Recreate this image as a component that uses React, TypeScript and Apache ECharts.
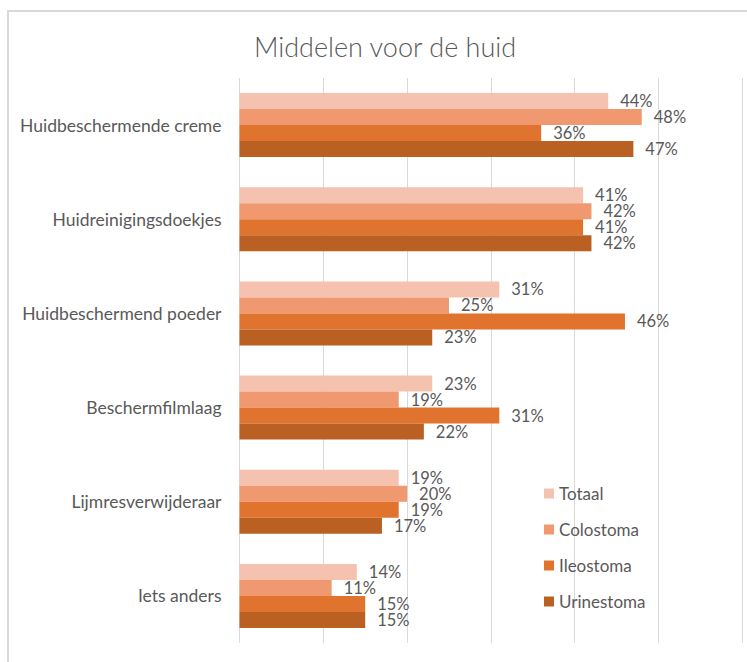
import React, { useEffect, useRef } from "react";
import * as echarts from "echarts";

const categories = [
  "Huidbeschermende creme",
  "Huidreinigingsdoekjes",
  "Huidbeschermend poeder",
  "Beschermfilmlaag",
  "Lijmresverwijderaar",
  "Iets anders",
];
const seriesNames = ["Totaal", "Colostoma", "Ileostoma", "Urinestoma"];
const totaal = [44, 41, 31, 23, 19, 14];
const colostoma = [48, 42, 25, 19, 20, 11];
const ileostoma = [36, 41, 46, 31, 19, 15];
const urinestoma = [47, 42, 23, 22, 17, 15];
const seriesValues = [totaal, colostoma, ileostoma, urinestoma];
const colors = ["#F5C2AF", "#F0986F", "#E0742E", "#BA6023"];

const FONT = "Lato";
const TEXT = "#595959";

export default function App() {
  const ref = useRef<HTMLDivElement>(null);
  useEffect(() => {
    if (!ref.current) return;
    const chart = echarts.init(ref.current, undefined, { renderer: "svg" });
    chart.setOption({
      animation: false,
      backgroundColor: "#FFFFFF",
      title: {
        text: "Middelen voor de huid",
        left: 380,
        textAlign: "center",
        top: 28,
        textStyle: { fontFamily: FONT, fontSize: 27, fontWeight: 300, color: TEXT },
      },
      graphic: [
        {
          type: "rect",
          shape: { x: 8, y: 11, width: 800, height: 800 },
          style: { fill: "none", stroke: "#D9D9D9", lineWidth: 2 },
          silent: true,
        },
      ],
      legend: {
        orient: "vertical",
        left: 539,
        top: 480,
        itemWidth: 10,
        itemHeight: 10,
        itemGap: 19,
        icon: "rect",
        data: seriesNames,
        textStyle: { fontFamily: FONT, fontSize: 17, color: TEXT, lineHeight: 16 },
      },
      grid: { left: 239.5, right: 4.7, top: 78, bottom: 19, containLabel: false },
      xAxis: {
        type: "value",
        min: 0,
        max: 60,
        interval: 10,
        axisLabel: { show: false },
        axisLine: { show: false },
        axisTick: { show: false },
        splitLine: { show: true, lineStyle: { color: "#D9D9D9", width: 1 } },
      },
      yAxis: {
        type: "category",
        inverse: true,
        data: categories,
        axisLine: { show: false },
        axisTick: { show: false },
        axisLabel: { fontFamily: FONT, fontSize: 17.5, color: TEXT, margin: 18 },
      },
      series: seriesNames.map((name, i) => ({
        name,
        type: "bar",
        data: seriesValues[i],
        barGap: "0%",
        barCategoryGap: "32%",
        itemStyle: { color: colors[i] },
        label: {
          show: true,
          position: "right",
          distance: 12,
          formatter: "{c}%",
          fontFamily: FONT,
          fontSize: 16.5,
          color: TEXT,
        },
      })),
    });
    return () => chart.dispose();
  }, []);
  return (
    <div
      ref={ref}
      style={{ position: "fixed", left: 0, top: 0, width: 747, height: 662 }}
    />
  );
}
